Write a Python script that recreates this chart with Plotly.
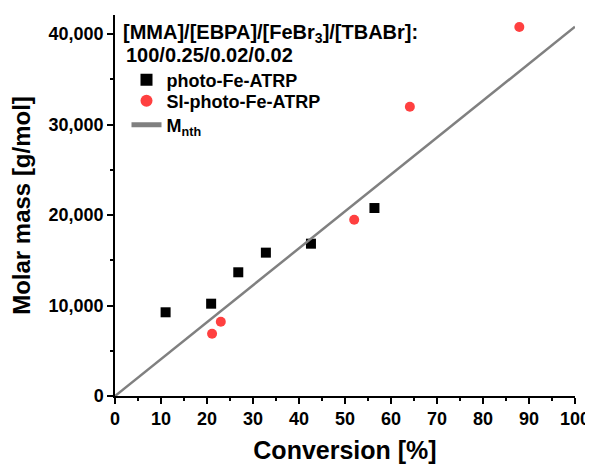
import plotly.graph_objects as go

# Data
photo_conv = [11.0, 20.9, 26.8, 32.8, 42.6, 56.4]
photo_mn = [9250, 10200, 13670, 15840, 16830, 20770]

si_conv = [21.1, 23.0, 52.0, 64.1, 87.9]
si_mn = [6880, 8210, 19480, 31970, 40770]

mnth_conv = [0, 100]
mnth_mn = [0, 40800]

x_ticks = [0, 10, 20, 30, 40, 50, 60, 70, 80, 90, 100]
y_ticks = [0, 10000, 20000, 30000, 40000]

FONT = "Liberation Sans"

fig = go.Figure()
fig.add_trace(go.Scatter(
    x=photo_conv, y=photo_mn, mode="markers", name="photo-Fe-ATRP",
    marker=dict(symbol="square", size=10, color="black"), legend="legend",
))
fig.add_trace(go.Scatter(
    x=si_conv, y=si_mn, mode="markers", name="SI-photo-Fe-ATRP",
    marker=dict(symbol="circle", size=10, color="#FF4040"), legend="legend2",
))
fig.add_trace(go.Scatter(
    x=mnth_conv, y=mnth_mn, mode="lines", name="M<sub>nth</sub>",
    line=dict(color="#808080", width=2.5), legend="legend3",
))

leg_font = dict(family=FONT, size=18, color="black", weight="bold")


def leg(y):
    return dict(x=0.025, y=y, xanchor="left", yanchor="middle",
                bgcolor="rgba(0,0,0,0)", font=leg_font, itemsizing="constant")


fig.update_layout(
    width=593, height=465,
    # page body adds an 8px offset; margins compensate so plot spans 115..575 x 15..396
    margin=dict(l=107, r=26, t=7, b=77),
    plot_bgcolor="white", paper_bgcolor="white",
    font=dict(family=FONT, color="black"),
    showlegend=True,
    legend=leg(0.829),
    legend2=leg(0.774),
    legend3=leg(0.711),
    xaxis=dict(
        range=[0, 100], tickvals=x_ticks, automargin=False,
        showgrid=False, zeroline=False,
        showline=True, linecolor="black", linewidth=1.5,
        ticks="outside", ticklen=6, tickwidth=1.5, tickcolor="black",
        minor=dict(ticks="outside", ticklen=3, dtick=5, tickcolor="black", tickwidth=1.5),
        tickfont=dict(family=FONT, size=18, color="black", weight="bold"),
        title=dict(text="Conversion [%]", font=dict(family=FONT, size=25, color="black", weight="bold"), standoff=13),
    ),
    yaxis=dict(
        range=[0, 42100], tickvals=y_ticks, tickformat=",d", automargin=False,
        showgrid=False, zeroline=False,
        showline=True, linecolor="black", linewidth=1.5,
        ticks="outside", ticklen=6, tickwidth=1.5, tickcolor="black",
        minor=dict(ticks="outside", ticklen=3, dtick=5000, tickcolor="black", tickwidth=1.5),
        tickfont=dict(family=FONT, size=18, color="black", weight="bold"),
        title=dict(text="Molar mass [g/mol]", font=dict(family=FONT, size=24, color="black", weight="bold"), standoff=12),
    ),
)

fig.add_annotation(
    xref="paper", yref="paper", x=0.014, y=0.99, xanchor="left", yanchor="top",
    text="[MMA]/[EBPA]/[FeBr<sub>3</sub>]/[TBABr]:", showarrow=False,
    font=dict(family=FONT, size=20, color="black", weight="bold"),
)
fig.add_annotation(
    xref="paper", yref="paper", x=0.02, y=0.929, xanchor="left", yanchor="top",
    text="100/0.25/0.02/0.02", showarrow=False,
    font=dict(family=FONT, size=20, color="black", weight="bold"),
)

fig.write_html("out.html")
